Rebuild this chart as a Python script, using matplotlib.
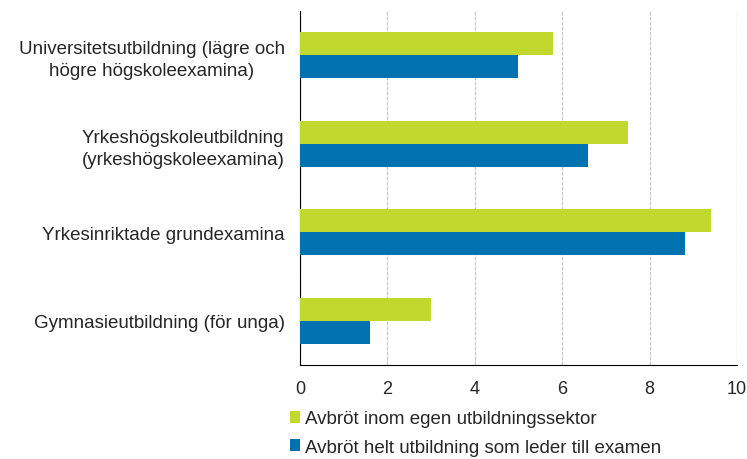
import numpy as np
import matplotlib
matplotlib.use('Agg')
from matplotlib import pyplot as plt

categories = ["Universitetsutbildning (lägre och\nhögre högskoleexamina)",
              "Yrkeshögskoleutbildning\n(yrkeshögskoleexamina)",
              "Yrkesinriktade grundexamina",
              "Gymnasieutbildning (för unga)"]
series_names = ["Avbröt inom egen utbildningssektor",
                "Avbröt helt utbildning som leder till examen"]
own_sector = [5.8, 7.5, 9.4, 3.0]
all_education = [5.0, 6.6, 8.8, 1.6]
x_ticks = [0, 2, 4, 6, 8, 10]

plt.rcParams['font.family'] = ['Liberation Sans', 'DejaVu Sans']
txt = '#262626'

green = '#c1d82f'
blue = '#0072b0'

fig = plt.figure(figsize=(7.47, 4.6), dpi=100)
ax = fig.add_axes([0.4016, 0.2043, 0.585, 0.7697])

y = np.arange(len(categories))[::-1]
h = 0.26
ax.barh(y + h / 2, own_sector, height=h, color=green, label=series_names[0], zorder=3)
ax.barh(y - h / 2, all_education, height=h, color=blue, label=series_names[1], zorder=3)

ax.set_xlim(0, 10)
ax.set_ylim(-0.5, 3.5)
ax.set_xticks(x_ticks)
ax.set_yticks(y)
ax.set_yticklabels(categories, fontsize=13.5, ha='right', multialignment='center',
                   color=txt, linespacing=1.4)
ax.tick_params(axis='y', length=0, pad=11)
ax.tick_params(axis='x', length=0, labelsize=13, pad=11, labelcolor=txt)
ax.xaxis.grid(True, color='#c8c8c8', linestyle=(0, (3, 1)), linewidth=0.9, zorder=0)
for s in ['top', 'right']:
    ax.spines[s].set_visible(False)
ax.spines['left'].set_color('black')
ax.spines['bottom'].set_color('black')

fig.legend(loc='upper left', bbox_to_anchor=(282 / 747, 1 - 404 / 460), frameon=False,
           fontsize=13.5, handlelength=0.55, handleheight=0.55, handletextpad=0.3,
           labelspacing=0.6, borderaxespad=0, labelcolor=txt)

fig.savefig('out.png', dpi=100)
